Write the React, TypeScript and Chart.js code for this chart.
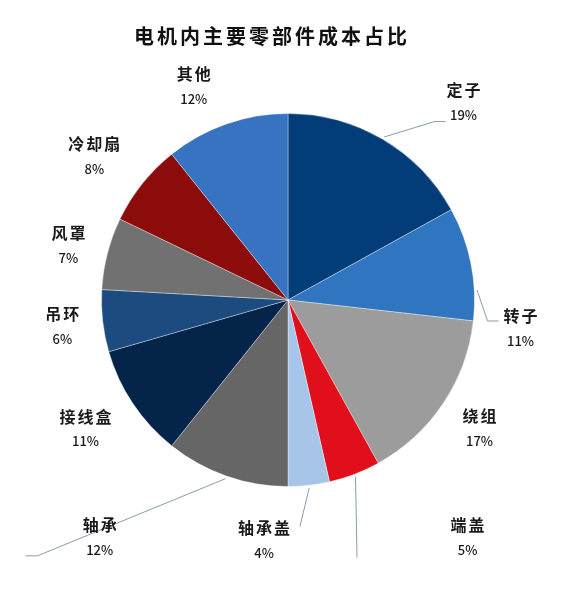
import React, { useEffect, useRef } from "react";
import { Chart, registerables } from "chart.js";

Chart.register(...registerables);

const TITLE = "电机内主要零部件成本占比";
const categories = ["定子", "转子", "绕组", "端盖", "轴承盖", "轴承", "接线盒", "吊环", "风罩", "冷却扇", "其他"];
const shares = [19, 11, 17, 5, 4, 12, 11, 6, 7, 8, 12];
const colors = ["#023d7a", "#2f75bf", "#9c9c9c", "#e10f1c", "#a6c5e8", "#666666", "#04244a", "#1c4b80", "#717171", "#8c0b0b", "#3873c1"];

// label block centre, in polar form relative to the pie: [clock angle deg, radius factor]
const labelPolar: [number, number][] = [
  [41.5, 1.42], [96.9, 1.256], [123.8, 1.236], [142.8, 1.593], [185.7, 1.291],
  [218.5, 1.622], [237.6, 1.286], [263.4, 1.218], [284.1, 1.214], [306.7, 1.295], [336.2, 1.252],
];
// leader lines: slice index, optional start clock angle, elbow [clock angle, radius factor], horizontal tail px
const leaders: { i: number; start?: number; elbow: [number, number]; tail: number }[] = [
  { i: 0, elbow: [39.4, 1.238], tail: 11 },
  { i: 1, start: 87, elbow: [96.0, 1.076], tail: 11 },
  { i: 3, elbow: [165.0, 1.43], tail: 0 },
  { i: 4, elbow: [177.0, 1.217], tail: 0 },
  { i: 5, elbow: [224.4, 1.92], tail: -12 },
];

const FONT = "'Noto Sans CJK SC', 'Noto Sans', sans-serif";

const labelPlugin = {
  id: "pieLabels",
  afterDatasetsDraw(chart: any) {
    const ctx = chart.ctx as CanvasRenderingContext2D;
    const meta = chart.getDatasetMeta(0);
    const arcs = meta.data as any[];
    if (!arcs.length) return;
    const p0 = arcs[0].getProps(["x", "y", "outerRadius"], true);
    const cx = p0.x, cy = p0.y, R = p0.outerRadius;
    const pt = (clockDeg: number, f: number) => {
      const a = (clockDeg * Math.PI) / 180 - Math.PI / 2;
      return [cx + R * f * Math.cos(a), cy + R * f * Math.sin(a)];
    };
    ctx.save();
    // leader lines
    ctx.strokeStyle = "#8a9ab0";
    ctx.lineWidth = 1;
    leaders.forEach((l) => {
      const p = arcs[l.i].getProps(["startAngle", "endAngle"], true);
      const midClock = (((p.startAngle + p.endAngle) / 2 + Math.PI / 2) * 180) / Math.PI;
      const s = pt(l.start ?? midClock, 1.015);
      const e = pt(l.elbow[0], l.elbow[1]);
      ctx.beginPath();
      ctx.moveTo(s[0], s[1]);
      ctx.lineTo(e[0], e[1]);
      if (l.tail) ctx.lineTo(e[0] + l.tail, e[1]);
      ctx.stroke();
    });
    // labels
    ctx.textAlign = "center";
    ctx.textBaseline = "middle";
    ctx.fillStyle = "#1a1a1a";
    categories.forEach((name, i) => {
      const [x, y] = pt(labelPolar[i][0], labelPolar[i][1]);
      ctx.font = `bold 16px ${FONT}`;
      (ctx as any).letterSpacing = "2px";
      ctx.fillText(name, x + 1, y - 12);
      ctx.font = `500 13px ${FONT}`;
      (ctx as any).letterSpacing = "0px";
      ctx.fillText(`${shares[i]}%`, x, y + 13);
    });
    // title
    ctx.font = `bold 20px ${FONT}`;
    (ctx as any).letterSpacing = "3px";
    ctx.fillStyle = "#111111";
    ctx.fillText(TITLE, 272, 36);
    ctx.restore();
  },
};

export default function App() {
  const ref = useRef<HTMLCanvasElement>(null);
  useEffect(() => {
    document.body.style.margin = "0";
    document.body.style.background = "#ffffff";
    const chart = new Chart(ref.current!, {
      type: "pie",
      data: {
        labels: categories,
        datasets: [
          {
            data: shares,
            backgroundColor: colors,
            borderColor: "rgba(255,255,255,0.35)",
            borderWidth: 1,
          },
        ],
      },
      options: {
        animation: false,
        responsive: false,
        devicePixelRatio: 1,
        layout: { padding: { top: 113, left: 101, right: 109, bottom: 111 } },
        plugins: {
          legend: { display: false },
          title: { display: false },
          tooltip: { enabled: false },
        },
      },
      plugins: [labelPlugin],
    });
    return () => chart.destroy();
  }, []);
  return (
    <div style={{ width: 584, height: 598, background: "#fff" }}>
      <canvas ref={ref} width={584} height={598} style={{ display: "block" }} />
    </div>
  );
}
